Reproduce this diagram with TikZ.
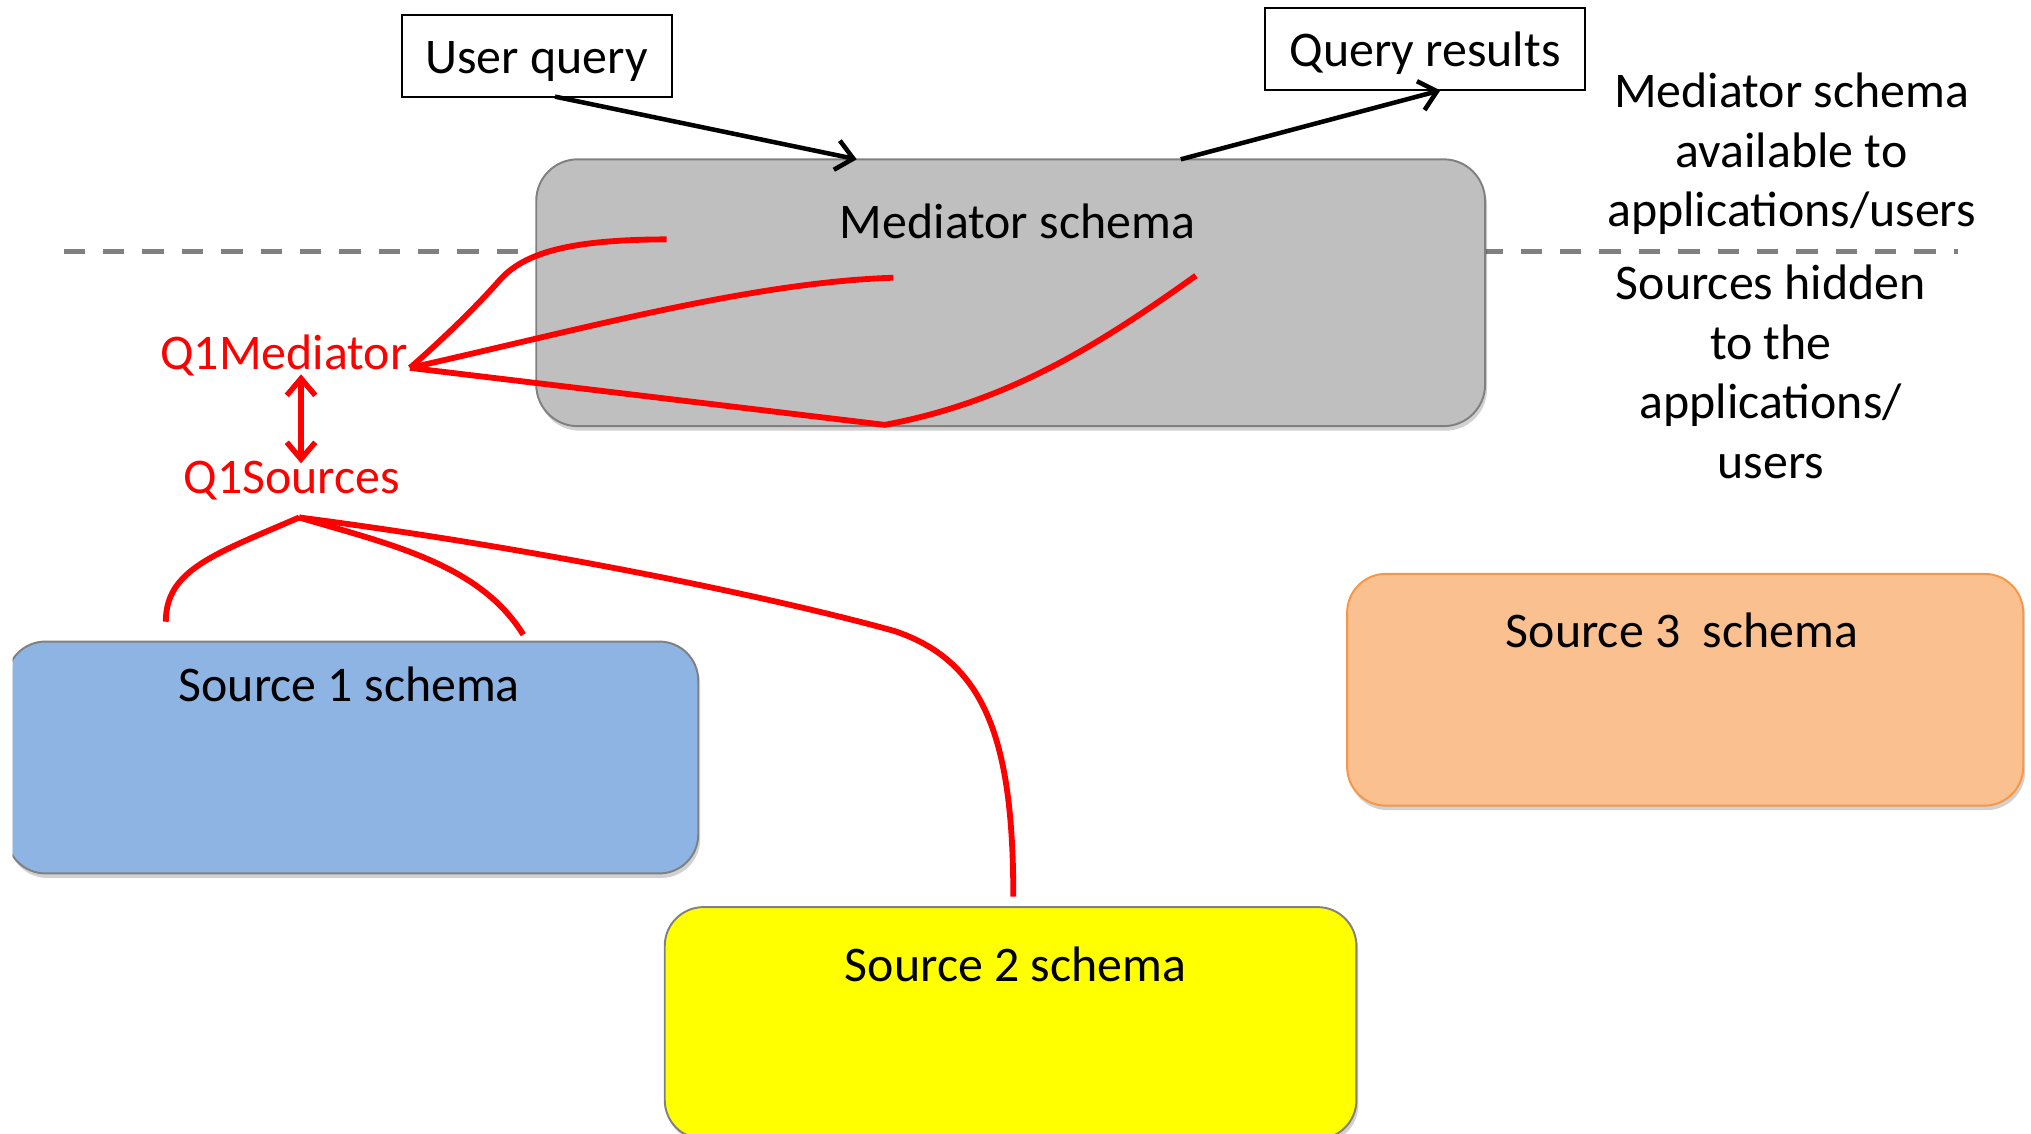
\documentclass[tikz,border=0pt]{standalone}
\usepackage{fontspec}
\setmainfont{Carlito}
\usetikzlibrary{arrows.meta,calc,shadows}
\definecolor{medfill}{HTML}{BFBFBF}
\definecolor{boxline}{HTML}{808080}
\definecolor{s1fill}{HTML}{8EB4E3}
\definecolor{s2fill}{HTML}{FFFF00}
\definecolor{s3fill}{HTML}{FAC090}
\definecolor{s3line}{HTML}{F79646}
\definecolor{dashgray}{HTML}{808080}
\definecolor{qred}{HTML}{FF0000}
\begin{document}
\begin{tikzpicture}[x=1pt,y=-1pt,
  every node/.style={font=\fontsize{38.5pt}{46pt}\selectfont, inner sep=0pt, outer sep=0pt},
  schemabox/.style={draw=boxline, line width=1.5pt, rounded corners=30pt,
    minimum width=534pt, minimum height=179pt,
    drop shadow={shadow xshift=1.5pt, shadow yshift=-3.5pt, fill=black, opacity=0.18}},
  labelbox/.style={draw=black, line width=1.6pt, fill=white},
  txt/.style={anchor=base, align=center},
  qtxt/.style={anchor=base, text=qred},
  blackarrow/.style={draw=black, line width=3.5pt, -{Straight Barb[length=13pt,width=23pt]}},
  redline/.style={draw=qred, line width=4.5pt},
  redarrow/.style={draw=qred, line width=4.2pt,
    {Straight Barb[length=13pt,width=22pt]}-{Straight Barb[length=13pt,width=22pt]}},
  divider/.style={draw=dashgray, line width=4pt, dash pattern=on 16.5pt off 13.9pt}
]
\useasboundingbox (0,0) rectangle (1568,875);
\clip (0,0) rectangle (1568,875);

% divider line
\coordinate (divL) at (49.2,194.3);
\coordinate (divR) at (1512,194.3);
\draw[divider] (divL) -- (divR);

% boxes
\node[schemabox, fill=medfill, minimum width=732.5pt, minimum height=206pt,
      rounded corners=32pt] (med) at (780.25,226) {};
\begin{scope}
  \clip (9.7,0) rectangle (1568,875);
  \node[schemabox, fill=s1fill] (s1) at (272.05,584.8) {};
\end{scope}
\node[schemabox, fill=s2fill] (s2) at (780.2,789.8) {};
\node[schemabox, draw=s3line, fill=s3fill, minimum width=522pt] (s3) at (1301,532.5) {};

% box texts
\node[txt] (medt) at (785.5,184.5) {Mediator schema};
\node[txt] (s1t) at (269.7,541.5) {Source 1 schema};
\node[txt] (s2t) at (784,758) {Source 2 schema};
\node[txt] (s3t) at (1298.6,499.8) {Source 3~~schema};

% query boxes
\node[labelbox, minimum width=208.5pt, minimum height=63pt,
      text height=30pt, text depth=3.2pt] (uq) at (414.25,43.1) {User query};
\node[labelbox, minimum width=247.1pt, minimum height=63.7pt,
      text height=30.5pt, text depth=3.2pt] (qr) at (1100.15,37.95) {Query results};

% side notes (base anchor = baseline of the last line)
\node[txt] (avail) at (1383.2,175) {Mediator schema\\available to\\applications/users};
\node[txt] (hidden) at (1367.1,369.3) {Sources hidden\\to the\\applications/\\users};

% red labels
\node[qtxt] (qm) at (219.25,285) {Q1Mediator};
\node[qtxt] (qs) at (225.15,380.9) {Q1Sources};

% coordinates for red curves
\coordinate (qmA) at (316.5,284);
\coordinate (qsA) at (231,399.5);
\coordinate (m1) at (514.7,184.8);
\coordinate (m2) at (689.7,214.4);
\coordinate (mV) at (683,328);
\coordinate (m3) at (923.3,212.8);
\coordinate (e1) at (128,480);
\coordinate (e2) at (404,490);
\coordinate (e3) at (782.3,692.3);
\coordinate (dA) at (232.4,289);
\coordinate (dB) at (232.4,357.7);

\draw[redline] (qmA) .. controls (335,268) and (365,240) .. (386,216)
                     .. controls (405,195) and (440,185) .. (m1);
\draw[redline] (qmA) .. controls (450,254) and (580,218) .. (m2);
\draw[redline] (qmA) -- (mV) .. controls (780,310) and (850,265) .. (m3);

\draw[redline] (qsA) .. controls (165,428) and (128,440) .. (e1);
\draw[redline] (qsA) .. controls (300,420) and (370,435) .. (e2);
\draw[redline] (qsA) .. controls (420,424) and (600,462) .. (690,487)
                     .. controls (760,510) and (782.3,570) .. (e3);

\draw[redarrow] (dA) -- (dB);

% black arrows
\draw[blackarrow] ($(uq.south)+(14.25,0)$) -- ($(med.north)+(-118.85,0)$);
\draw[blackarrow] ($(med.north)+(131.35,0)$) -- ($(qr.south)+(11.85,0)$);
\end{tikzpicture}
\end{document}
